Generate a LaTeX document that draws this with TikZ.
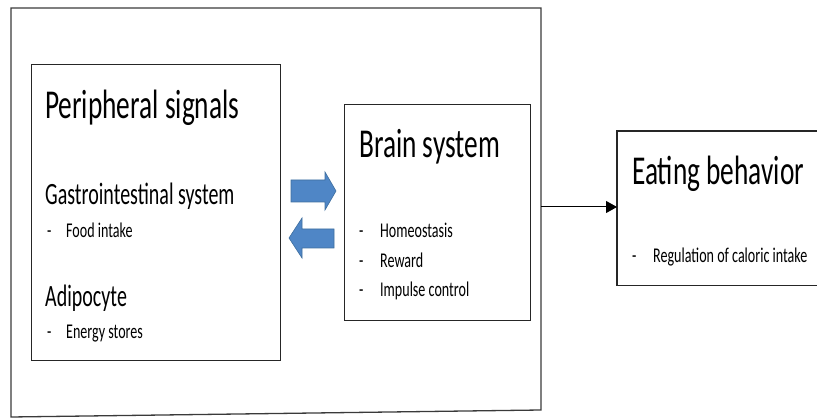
\documentclass[tikz,border=0pt]{standalone}
\usepackage{fontspec}
\setmainfont{Carlito}[FakeStretch=0.667]
\newfontfamily\midfam{Carlito}[FakeStretch=0.645]
\newfontfamily\smallfam{Carlito}[FakeStretch=0.67]
\usetikzlibrary{arrows.meta}
\definecolor{arrowblue}{HTML}{4F86C6}
\definecolor{arrowedge}{HTML}{3E6E9E}
\definecolor{frameline}{HTML}{3A3A3A}
\begin{document}
\begin{tikzpicture}[x=1pt,y=-1pt,
  box/.style={draw=black!85,line width=1.4pt,inner sep=0pt,anchor=north west},
  txt/.style={inner sep=0pt,anchor=base west,text=black},
  big/.style={txt,font=\fontsize{41}{43}\selectfont},
  mid/.style={txt,font=\midfam\fontsize{31}{33}\selectfont},
  small/.style={txt,font=\smallfam\fontsize{21}{23}\selectfont},
  blockarrow/.style={fill=arrowblue,draw=arrowedge,line width=0.6pt}]
\useasboundingbox (0,0) rectangle (817,419);
% outer frame
\draw[frameline,line width=1.3pt] (11,8) -- (541,8) -- (541,410) -- (11,417) -- cycle;
\coordinate (frameR) at (541,207);
% boxes
\node[box,minimum width=249pt,minimum height=296pt] (periph) at (31,64) {};
\node[box,minimum width=186pt,minimum height=216pt] (brain) at (344,104) {};
\node[inner sep=0pt,anchor=north west,minimum width=205pt,minimum height=154pt] (eat) at (617,131) {};
\draw[black!85,line width=1.4pt] (eat.north east) -- (eat.north west) -- (eat.south west) -- (eat.south east);
% peripheral texts
\node[big] (pst) at (45,119) {Peripheral signals};
\node[mid] (git) at (45,205) {Gastrointestinal system};
\node[small] (d1) at (47,238) {-};
\node[small] (fi) at (66,238) {Food intake};
\node[mid] (adi) at (45,307) {Adipocyte};
\node[small] (d2) at (47,339) {-};
\node[small] (es) at (66,339) {Energy stores};
% brain texts
\node[big] (bst) at (359,158) {Brain system};
\node[small] (d3) at (359,238) {-};
\node[small] (ho) at (380,238) {Homeostasis};
\node[small] (d4) at (359,268) {-};
\node[small] (re) at (380,268) {Reward};
\node[small] (d5) at (359,297) {-};
\node[small] (ic) at (380,297) {Impulse control};
% eating texts
\node[big] (ebt) at (632,185) {Eating behavior};
\node[small] (d6) at (632,263) {-};
\node[small] (rc) at (653,263) {Regulation of caloric intake};
% blue block arrows
\draw[blockarrow] (291,180) -- (325,180) -- (325,172) -- (336,191) -- (325,210) -- (325,202) -- (291,202) -- cycle;
\draw[blockarrow] (334,229) -- (302,229) -- (302,218) -- (289,238) -- (302,258) -- (302,248) -- (334,248) -- cycle;
% connector
\draw[black,line width=1pt,-{Triangle[length=11pt,width=12pt]}] (frameR) -- (eat.west |- frameR);
\end{tikzpicture}
\end{document}
